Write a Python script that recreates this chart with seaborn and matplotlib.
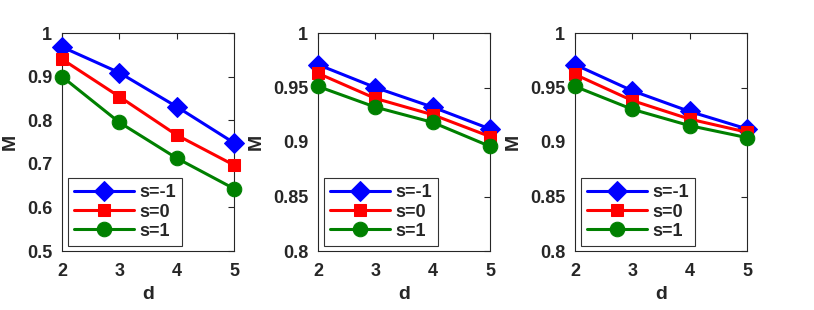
import matplotlib
matplotlib.use("Agg")
import matplotlib.pyplot as plt
import seaborn as sns
import pandas as pd

d = [2, 3, 4, 5]
labels = ["s=-1", "s=0", "s=1"]

# panel 1
m1_neg = [0.968, 0.909, 0.831, 0.748]
m1_zero = [0.940, 0.854, 0.766, 0.697]
m1_pos = [0.900, 0.795, 0.713, 0.643]
# panel 2
m2_neg = [0.971, 0.950, 0.932, 0.912]
m2_zero = [0.963, 0.940, 0.925, 0.905]
m2_pos = [0.951, 0.932, 0.918, 0.896]
# panel 3
m3_neg = [0.971, 0.947, 0.928, 0.912]
m3_zero = [0.962, 0.938, 0.921, 0.909]
m3_pos = [0.951, 0.930, 0.915, 0.904]

ylims = [(0.5, 1.0), (0.8, 1.0), (0.8, 1.0)]
yticks = [[0.5, 0.6, 0.7, 0.8, 0.9, 1.0], [0.8, 0.85, 0.9, 0.95, 1.0], [0.8, 0.85, 0.9, 0.95, 1.0]]
yticklabels = [["0.5", "0.6", "0.7", "0.8", "0.9", "1"],
               ["0.8", "0.85", "0.9", "0.95", "1"],
               ["0.8", "0.85", "0.9", "0.95", "1"]]

colors = ["#0000ff", "#ff0000", "#008000"]
markers = ["D", "s", "o"]
msizes = [10, 9, 10.5]

sns.set_style("white")
plt.rcParams['font.family'] = ['Liberation Sans', 'DejaVu Sans']
plt.rcParams['font.weight'] = 'bold'

fig = plt.figure(figsize=(8.14, 3.10), dpi=100)
lefts = [62, 318, 575]
W, H = 814, 310
panels = [[m1_neg, m1_zero, m1_pos], [m2_neg, m2_zero, m2_pos], [m3_neg, m3_zero, m3_pos]]
ink = "#262626"

for i, series in enumerate(panels):
    ax = fig.add_axes([lefts[i] / W, (H - 251) / H, 172 / W, 218 / H])
    rows = []
    for lab, vals in zip(labels, series):
        for x, y in zip(d, vals):
            rows.append({"d": x, "M": y, "s": lab})
    df = pd.DataFrame(rows)
    for j, lab in enumerate(labels):
        sub = df[df["s"] == lab]
        sns.lineplot(data=sub, x="d", y="M", ax=ax, color=colors[j], marker=markers[j],
                     markersize=msizes[j], markeredgecolor=colors[j], linewidth=2.2,
                     label=lab, clip_on=False, zorder=3)
    ax.set_xlim(2, 5)
    ax.set_ylim(*ylims[i])
    ax.set_xticks(d)
    ax.set_xticklabels([str(x) for x in d])
    ax.set_yticks(yticks[i])
    ax.set_yticklabels(yticklabels[i])
    ax.tick_params(direction="in", length=4, width=0.8, color=ink,
                   labelsize=13, labelcolor=ink, top=True, right=True)
    ax.tick_params(axis="x", pad=9)
    ax.tick_params(axis="y", pad=7)
    for t in ax.get_xticklabels() + ax.get_yticklabels():
        t.set_fontweight("bold")
    for sp in ax.spines.values():
        sp.set_visible(True)
        sp.set_color(ink)
        sp.set_linewidth(0.8)
    ax.set_xlabel("d", fontsize=14, fontweight="bold", color=ink, labelpad=4)
    ax.set_ylabel("M", fontsize=14, fontweight="bold", color=ink, labelpad=6)
    # legend sits in the lower left corner, MATLAB style box
    leg = ax.legend(loc="lower left", bbox_to_anchor=(6 / 172, 5 / 218), borderaxespad=0,
                    fontsize=13, frameon=True, fancybox=False, edgecolor="black",
                    handlelength=3.3, borderpad=0.35, labelspacing=0.12, handletextpad=0.3)
    leg.get_frame().set_linewidth(0.8)
    for t in leg.get_texts():
        t.set_fontweight("bold")

fig.savefig("out.png", dpi=100)
